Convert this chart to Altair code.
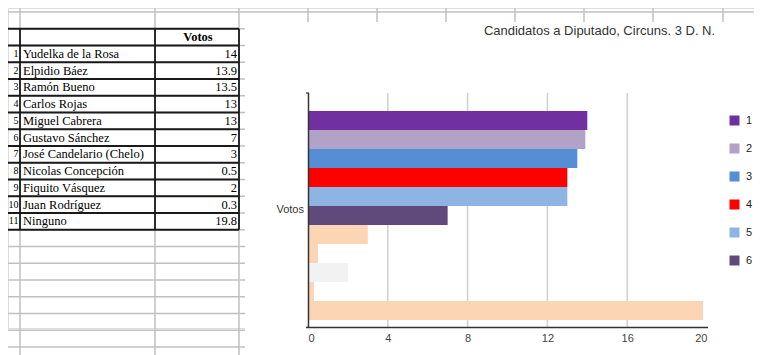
import altair as alt
import pandas as pd

# ---------------- data ----------------
nums = [1, 2, 3, 4, 5, 6, 7, 8, 9, 10, 11]
names = ["Yudelka de la Rosa", "Elpidio Báez", "Ramón Bueno", "Carlos Rojas",
         "Miguel Cabrera", "Gustavo Sánchez", "José Candelario (Chelo)",
         "Nicolas Concepción", "Fiquito Vásquez", "Juan Rodríguez", "Ninguno"]
votos = [14, 13.9, 13.5, 13, 13, 7, 3, 0.5, 2, 0.3, 19.8]
votos_text = ["14", "13.9", "13.5", "13", "13", "7", "3", "0.5", "2", "0.3", "19.8"]
bar_colors = ["#7030A0", "#B3A2C7", "#558ED5", "#FF0000", "#8EB4E3", "#604A7B",
              "#FCD5B5", "#FCD5B5", "#F2F2F2", "#FCD5B5", "#FCD5B5"]
x_ticks = [0, 4, 8, 12, 16, 20]
legend_items = ["1", "2", "3", "4", "5", "6"]
chart_title = "Candidatos a Diputado, Circuns. 3 D. N."
series_name = "Votos"

# ---------------- layout (spreadsheet grid, chart coords) ----------------
W, H, PAD_B = 746, 320, 27
sheet_rows = list(range(0, 21))          # row boundaries
table_rows = list(range(1, 14))          # bordered table rows
left_cols = [12, 147, 231]
right_cols = [300, 369, 438, 507, 576, 645, 715]

row_scale = alt.Scale(domain=[0, 20], range=[4, 339], zero=False, nice=False)
px = alt.Scale(domain=[0, W], range=[0, W], zero=False, nice=False)
bar_x = alt.Scale(domain=[0, 20], range=[300, 699], nice=False)

df = pd.DataFrame({
    "num": nums, "key": [str(n) for n in nums], "name": names,
    "votos": votos, "vt": votos_text, "rc": [n + 1.5 for n in nums],
})

GRAY = "#c0c0c0"

hlines = alt.Chart(pd.DataFrame({"r": sheet_rows, "x0": 0, "x1": W})).mark_rule(
    color=GRAY, strokeWidth=1.5).encode(
    y=alt.Y("r:Q", scale=row_scale, axis=None),
    x=alt.X("x0:Q", scale=px, axis=None), x2="x1:Q")

vl_df = pd.DataFrame({"cx": left_cols + right_cols,
                      "r0": -1,
                      "r1": [21] * len(left_cols) + [1] * len(right_cols)})
vlines = alt.Chart(vl_df).mark_rule(color=GRAY, strokeWidth=1.5).encode(
    x=alt.X("cx:Q", scale=px, axis=None),
    y=alt.Y("r0:Q", scale=row_scale, axis=None), y2="r1:Q")

t_h = alt.Chart(pd.DataFrame({"r": table_rows, "x0": 0, "x1": left_cols[-1]})).mark_rule(
    color="#1a1a1a", strokeWidth=1.8).encode(
    y=alt.Y("r:Q", scale=row_scale, axis=None),
    x=alt.X("x0:Q", scale=px, axis=None), x2="x1:Q")

t_v = alt.Chart(pd.DataFrame({"cx": left_cols, "r0": table_rows[0], "r1": table_rows[-1]})).mark_rule(
    color="#1a1a1a", strokeWidth=1.8).encode(
    x=alt.X("cx:Q", scale=px, axis=None),
    y=alt.Y("r0:Q", scale=row_scale, axis=None), y2="r1:Q")

base = alt.Chart(df)
serif = dict(font="Liberation Serif", color="#000", baseline="middle")
t_names = base.mark_text(align="left", fontSize=12.5, **serif).encode(
    x=alt.value(15), y=alt.Y("rc:Q", scale=row_scale, axis=None), text="name:N")
t_vals = base.mark_text(align="right", fontSize=12.5, **serif).encode(
    x=alt.value(229), y=alt.Y("rc:Q", scale=row_scale, axis=None), text="vt:N")
t_nums = base.mark_text(align="right", fontSize=10, **serif).encode(
    x=alt.value(10.5), y=alt.Y("rc:Q", scale=row_scale, axis=None), text="num:N")
t_head = alt.Chart(pd.DataFrame({"h": [series_name], "r": [1.5]})).mark_text(
    align="center", fontWeight="bold", fontSize=12.5, **serif).encode(
    x=alt.value(190), y=alt.Y("r:Q", scale=row_scale, axis=None), text="h:N")

box = alt.Chart(pd.DataFrame({"a": [0]})).mark_rect(color="white").encode(
    x=alt.value(237), x2=alt.value(W), y=alt.value(14), y2=alt.value(H + PAD_B))

grid = alt.Chart(pd.DataFrame({"t": x_ticks[1:-1]})).mark_rule(
    color="#d0d0d0", strokeWidth=1.5).encode(
    x=alt.X("t:Q", scale=bar_x, axis=None), y=alt.value(85), y2=alt.value(H))

bars = base.mark_bar().encode(
    x=alt.X("votos:Q", scale=bar_x,
            axis=alt.Axis(values=x_ticks, title=None, grid=False, ticks=False,
                          tickSize=0, domain=False,
                          labelFont="Liberation Sans", labelFontSize=11,
                          labelColor="#444", labelPadding=4, orient="bottom",
                          zindex=2)),
    y=alt.Y("num:O", scale=alt.Scale(domain=nums, range=[103, 312],
                                     paddingInner=0, paddingOuter=0), axis=None),
    color=alt.Color("key:N", scale=alt.Scale(domain=[str(n) for n in nums], range=bar_colors),
                    legend=alt.Legend(values=legend_items, orient="none", legendX=721,
                                      legendY=107, title=None, symbolType="square",
                                      symbolSize=100, symbolStrokeWidth=0,
                                      labelFont="Liberation Sans", labelFontSize=11,
                                      labelColor="#222", rowPadding=16, padding=0,
                                      labelOffset=6)),
)

xaxis = alt.Chart(pd.DataFrame({"a": [0]})).mark_rule(
    color="#333", strokeWidth=1.6).encode(
    x=alt.value(298), x2=alt.value(700), y=alt.value(H - 0.5))
yaxis = alt.Chart(pd.DataFrame({"a": [0]})).mark_rule(color="#333", strokeWidth=1.5).encode(
    x=alt.value(300.5), y=alt.value(85), y2=alt.value(H))
ytick = alt.Chart(pd.DataFrame({"a": [0]})).mark_rule(color="#333", strokeWidth=1.2).encode(
    x=alt.value(298), x2=alt.value(301), y=alt.value(85))

sans = dict(font="Liberation Sans", color="#333")
title_t = alt.Chart(pd.DataFrame({"t": [chart_title]})).mark_text(
    align="center", baseline="alphabetic", fontSize=13, **sans).encode(
    x=alt.value(591.5), y=alt.value(26.7), text="t:N")
votos_t = alt.Chart(pd.DataFrame({"t": [series_name]})).mark_text(
    align="right", baseline="middle", fontSize=11, **sans).encode(
    x=alt.value(296), y=alt.value(202), text="t:N")

chart = alt.layer(
    hlines, vlines, t_h, t_v, t_names, t_vals, t_nums, t_head,
    box, grid, bars, yaxis, ytick, title_t, votos_t, xaxis
).resolve_scale(x="independent", y="independent").properties(
    width=W, height=H,
    autosize=alt.AutoSizeParams(type="none"),
    padding={"left": 0, "top": 0, "right": 0, "bottom": PAD_B},
).configure_view(strokeWidth=0).configure(background="white")

chart.save("out.html", embed_options={"renderer": "svg", "actions": False})
